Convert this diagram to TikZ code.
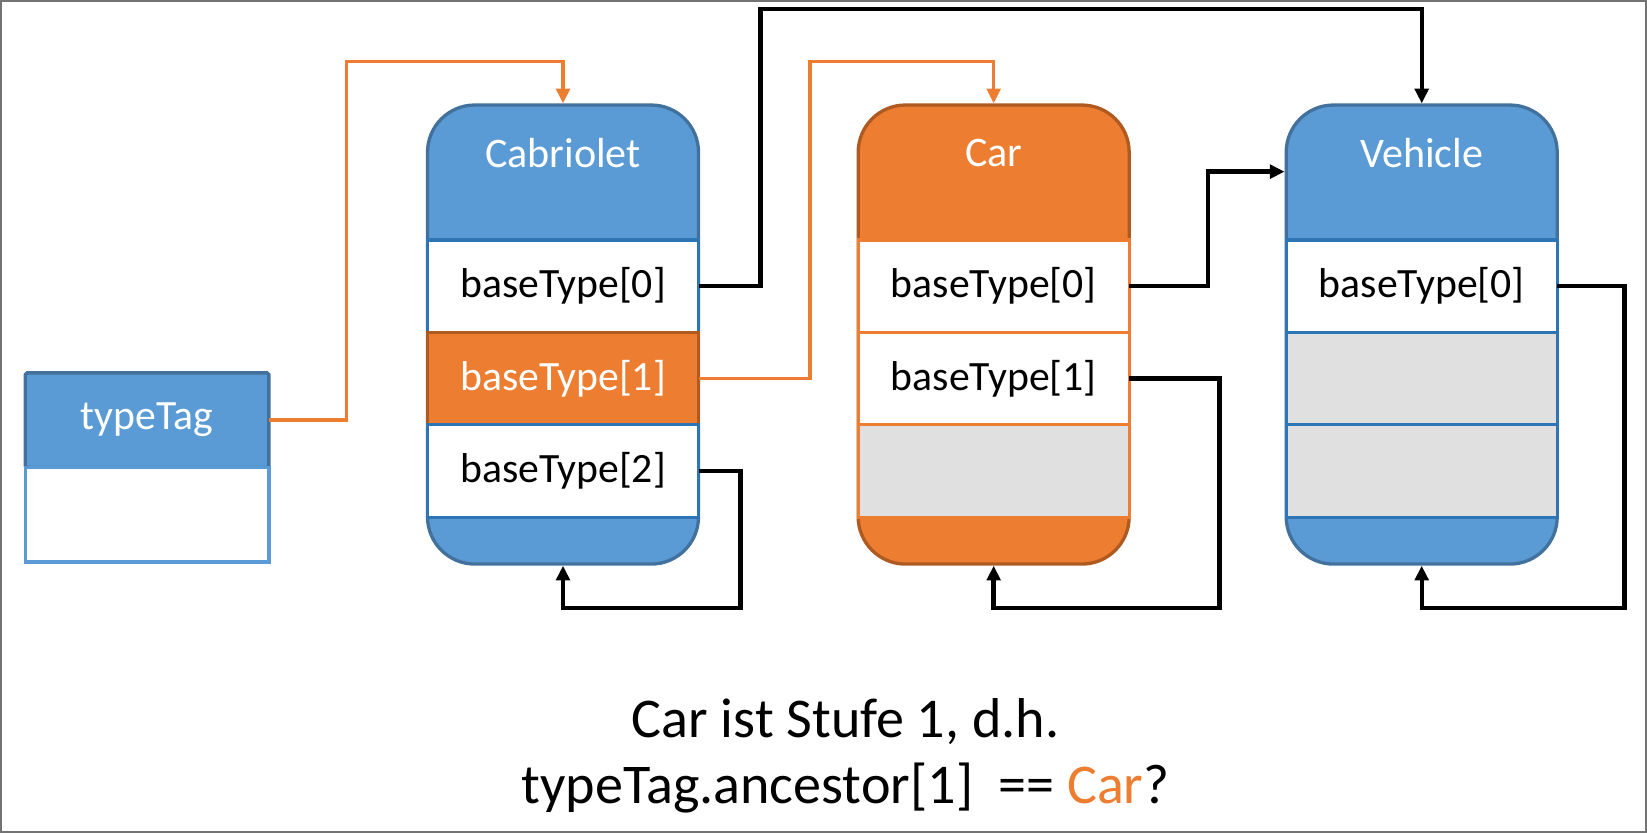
\documentclass[tikz,border=0pt]{standalone}
\usepackage{fontspec}
\setmainfont{Carlito}
\usetikzlibrary{positioning,arrows.meta}
\definecolor{boxblue}{HTML}{5B9BD5}
\definecolor{edgeblue}{HTML}{41719C}
\definecolor{lineblue}{HTML}{2E75B6}
\definecolor{boxorange}{HTML}{ED7D31}
\definecolor{edgeorange}{HTML}{AE5A21}
\definecolor{emptygray}{HTML}{E0E0E0}
\tikzset{
  stack/.style={draw=edgeblue, fill=boxblue, line width=0.9pt, rounded corners=0.45cm,
    minimum width=2.58cm, minimum height=4.37cm, inner sep=0pt},
  heading/.style={text=white, font=\fontsize{11.4}{13}\selectfont},
  slot/.style={draw=lineblue, fill=white, line width=0.9pt, minimum width=2.58cm,
    minimum height=0.88cm, inner sep=0pt, outer sep=0pt, font=\fontsize{11.3}{13}\selectfont},
  link/.style={line width=1.2pt, -{Triangle[length=1.4mm,width=1.3mm]}},
  taglink/.style={link, draw=boxorange, line width=0.9pt},
}
\begin{document}
\begin{tikzpicture}
    \useasboundingbox (0,0) rectangle (15.68,7.93);
    \draw[black!55, line width=0.5pt] (0.01,0.01) rectangle (15.67,7.92);

    % type tag
    \node[slot, fill=boxblue, draw=edgeblue, minimum width=2.32cm, minimum height=0.90cm,
      rounded corners=0.5pt, text=white] (tag) at (1.40,3.93) {typeTag};
    \node[slot, draw=boxblue, minimum width=2.32cm, minimum height=0.90cm,
      below=0cm of tag] (tagbody) {};

    % Cabriolet
    \node[stack] (cab) at (5.36,4.745) {};
    \node[heading] at ([yshift=-0.47cm]cab.north) {Cabriolet};
    \node[slot, below=1.30cm of cab.north] (cab0) {baseType[0]};
    \node[slot, below=0cm of cab0, fill=boxorange, draw=edgeorange, text=white] (cab1) {baseType[1]};
    \node[slot, below=0cm of cab1] (cab2) {baseType[2]};

    % Car
    \node[stack, fill=boxorange, draw=edgeorange] (car) at (9.46,4.745) {};
    \node[heading] at ([yshift=-0.47cm]car.north) {Car};
    \node[slot, draw=boxorange, below=1.30cm of car.north] (car0) {baseType[0]};
    \node[slot, draw=boxorange, below=0cm of car0] (car1) {baseType[1]};
    \node[slot, draw=boxorange, fill=emptygray, below=0cm of car1] (car2) {};

    % Vehicle
    \node[stack] (veh) at (13.535,4.745) {};
    \node[heading] at ([yshift=-0.47cm]veh.north) {Vehicle};
    \node[slot, below=1.30cm of veh.north] (veh0) {baseType[0]};
    \node[slot, fill=emptygray, below=0cm of veh0] (veh1) {};
    \node[slot, fill=emptygray, below=0cm of veh1] (veh2) {};

    % links
    \draw[taglink] (tag.east) -- ++(0.74,0) |- ([yshift=0.40cm]cab.north) -- (cab.north);
    \draw[taglink] (cab1.east) -- ++(1.06,0) |- ([yshift=0.40cm]car.north) -- (car.north);
    \draw[link] (cab0.east) -- ++(0.59,0) |- ([yshift=0.90cm]veh.north) -- (veh.north);
    \draw[link] (car0.east) -- ++(0.75,0) |- ([yshift=-0.65cm]veh.north west);
    \draw[link] (cab2.east) -- ++(0.40,0) |- ([yshift=-0.40cm]cab.south) -- (cab.south);
    \draw[link] (car1.east) -- ++(0.86,0) |- ([yshift=-0.40cm]car.south) -- (car.south);
    \draw[link] (veh0.east) -- ++(0.64,0) |- ([yshift=-0.40cm]veh.south) -- (veh.south);

    % question
    \node[font=\fontsize{15.2}{18}\selectfont] (note1) at (8.05,1.06) {Car ist Stufe 1, d.h.};
    \node[font=\fontsize{15.2}{18}\selectfont] (note2) at (8.05,0.43)
      {typeTag.ancestor[1]\ \ == \textcolor{boxorange}{Car}?};
\end{tikzpicture}
\end{document}
